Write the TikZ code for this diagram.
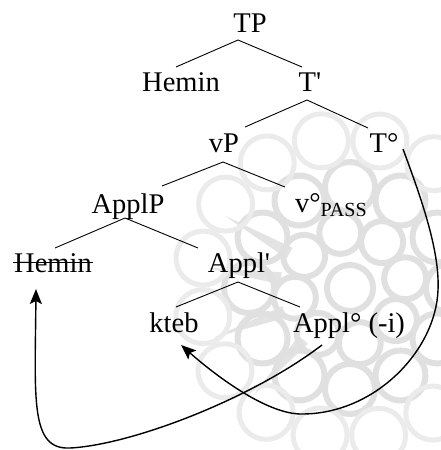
\documentclass[tikz,border=0pt]{standalone}
\usepackage{fontspec}
\setmainfont{Liberation Serif}
\usetikzlibrary{arrows.meta,calc}
\begin{document}
\begin{tikzpicture}[x=1pt,y=-1pt,
  lbl/.style={inner sep=0pt, outer sep=0pt, anchor=base, font=\fontsize{28.5}{30}\selectfont},
  branch/.style={line width=0.9pt},
  move/.style={line width=1.4pt, -{Stealth[length=15pt,width=12pt,inset=3pt]}},
  cell/.style={draw=black!12, line width=6pt},
  spike/.style={fill=black!11}]
\useasboundingbox (0,0) rectangle (441,450);

% faint rosette ornament in the background: rings of round cells
\begin{scope}
  \clip (0,0) rectangle (441,450);
  \coordinate (c) at (350,288);
  \foreach \a in {150,172,200,228} {
    \fill[spike] ($(c)+(\a+5:70pt)$) -- ($(c)+(\a:145pt)$) -- ($(c)+(\a-5:70pt)$) -- cycle;
  }
  \draw[cell] (c) circle[radius=23pt];
  \foreach \a in {0,45,...,315}
    \draw[cell] ($(c)+(\a+10:56pt)$) circle[radius=21pt];
  \foreach \a in {0,30,...,330}
    \draw[cell] ($(c)+(\a:101pt)$) circle[radius=25pt];
  \foreach \a in {0,22.5,...,337.5}
    \draw[cell, draw=black!8, line width=5pt] ($(c)+(\a+11:150pt)$) circle[radius=27pt];
\end{scope}

% tree labels
\node[lbl] (tp)      at (250,32)  {TP};
\node[lbl] (hem)     at (181,91)  {Hemin};
\node[lbl] (tbar)    at (310,91)  {T\textquotesingle};
\node[lbl] (vp)      at (224,152) {vP};
\node[lbl] (t0)      at (384,152) {T\textdegree};
\node[lbl] (applp)   at (128,213) {ApplP};
\node[lbl, anchor=base west] (vpass) at (295,212)
  {v\textdegree\raisebox{-4pt}{\fontsize{20}{20}\selectfont PASS}};
\node[lbl] (hemt)    at (53,272)  {Hemin};
\node[lbl] (applbar) at (239,272) {Appl\textquotesingle};
\node[lbl] (kteb)    at (174,332) {kteb};
\node[lbl] (appl0)   at (349,332) {Appl\textdegree{} (-i)};

% struck-out copy
\draw[line width=1pt] ([shift={(-1,-10)}]hemt.base west) -- ([shift={(1,-10)}]hemt.base east);

% branches
\draw[branch] ([shift={(-12,8)}]tp.base) -- ([shift={(-5,-24)}]hem.base);
\draw[branch] ([shift={(-12,8)}]tp.base) -- ([shift={(-8,-24)}]tbar.base);
\draw[branch] ([shift={(-3,9)}]tbar.base) -- ([shift={(21,-25)}]vp.base);
\draw[branch] ([shift={(-3,9)}]tbar.base) -- ([shift={(-16,-24)}]t0.base);
\draw[branch] ([shift={(-1,10)}]vp.base) -- ([shift={(34,-27)}]applp.base);
\draw[branch] ([shift={(-1,10)}]vp.base) -- ([shift={(-10,-25)}]vpass.base west);
\draw[branch] ([shift={(-3,5)}]applp.base) -- ([shift={(2,-24)}]hemt.base);
\draw[branch] ([shift={(-3,5)}]applp.base) -- ([shift={(-41,-24)}]applbar.base);
\draw[branch] ([shift={(-1,10)}]applbar.base) -- ([shift={(2,-25)}]kteb.base);
\draw[branch] ([shift={(-1,10)}]applbar.base) -- ([shift={(-49,-25)}]appl0.base);

% movement arrows
\draw[move] ([shift={(19,-3)}]t0.base)
  .. controls (420,195) and (440,250) .. (438,290)
  .. controls (436,350) and (375,415) .. (300,414)
  .. controls (265,413) and (215,375) .. ([shift={(7,13)}]kteb.base);
\draw[move] ([shift={(-27,13)}]appl0.base)
  .. controls (250,400) and (130,445) .. (70,448)
  .. controls (30,450) and (35,400) .. ([shift={(-17,17)}]hemt.base);
\end{tikzpicture}
\end{document}
